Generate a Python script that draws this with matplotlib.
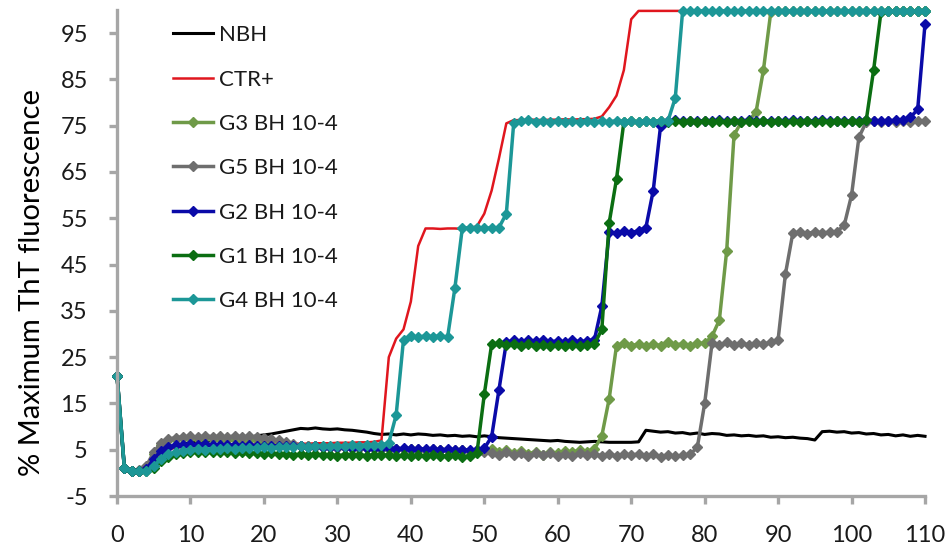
import matplotlib

matplotlib.use("Agg")
import matplotlib.pyplot as plt
import numpy as np

# tiempo (h), una lectura por hora
horas = np.arange(0, 111)

nbh = [
    20.5, 1.0, 0.5, 0.5, 0.6, 2.5, 4.5, 5.5, 6.0, 6.3,
    6.5, 6.7, 6.8, 7.0, 7.0, 7.2, 7.3, 7.5, 7.7, 8.0,
    8.2, 8.4, 8.7, 9.0, 9.3, 9.6, 9.5, 9.7, 9.5, 9.4,
    9.5, 9.3, 9.2, 9.0, 8.8, 8.5, 8.3, 8.4, 8.2, 8.4,
    8.2, 8.4, 8.3, 8.1, 8.2, 8.0, 8.1, 7.9, 8.0, 7.8,
    8.0, 7.8, 7.6, 7.5, 7.4, 7.3, 7.2, 7.1, 7.0, 6.9,
    7.0, 6.8, 6.7, 6.6, 6.7, 6.8, 6.7, 6.6, 6.6, 6.6,
    6.6, 6.7, 9.2, 9.0, 8.8, 8.9, 8.6, 8.7, 8.4, 8.6,
    8.3, 8.5, 8.4, 8.1, 8.2, 8.0, 8.1, 7.9, 8.0, 7.7,
    7.8, 7.6, 7.7, 7.5, 7.4, 7.1, 8.9, 9.0, 8.8, 8.9,
    8.6, 8.7, 8.4, 8.5, 8.2, 8.3, 8.0, 8.2, 7.9, 8.1, 7.9,
]
ctr = [
    20.5, 1.0, 0.5, 0.5, 0.6, 2.0, 4.0, 5.0, 5.5, 5.6,
    5.7, 5.8, 5.8, 5.9, 5.9, 6.0, 6.0, 6.0, 6.1, 6.1,
    6.1, 6.2, 6.2, 6.2, 6.3, 6.3, 6.3, 6.4, 6.4, 6.4,
    6.5, 6.5, 6.5, 6.6, 6.6, 6.7, 7.0, 25.0, 29.0, 31.0,
    37.0, 49.0, 52.8, 52.8, 52.7, 52.8, 52.8, 52.7, 52.8, 53.3,
    56.0, 61.0, 68.0, 75.5, 76.2, 76.2, 76.3, 76.3, 76.2, 76.3,
    76.3, 76.4, 76.3, 76.4, 76.4, 76.5, 77.0, 79.0, 81.5, 87.0,
    98.0, 99.8, 99.8, 99.8, 99.8, 99.8, 99.8, 99.8, 99.8, 99.8,
    99.8, 99.8, 99.8, 99.8, 99.8, 99.8, 99.8, 99.8, 99.8, 99.8,
    99.8, 99.8, 99.8, 99.8, 99.8, 99.8, 99.8, 99.8, 99.8, 99.8,
    99.8, 99.8, 99.8, 99.8, 99.8, 99.8, 99.8, 99.8, 99.8, 99.8, 99.8,
]
g3 = [
    21.0, 1.0, 0.5, 0.5, 1.0, 4.0, 6.0, 7.0, 7.3, 7.5,
    7.5, 7.4, 7.5, 7.3, 7.4, 7.2, 7.3, 7.1, 7.2, 7.0,
    6.8, 6.6, 6.4, 6.2, 6.0, 5.9, 5.8, 5.7, 5.6, 5.6,
    5.5, 5.5, 5.4, 5.4, 5.3, 5.3, 5.2, 5.2, 5.2, 5.1,
    5.1, 5.0, 5.0, 4.9, 5.0, 4.9, 4.8, 4.9, 4.8, 4.8,
    5.0, 5.2, 4.6, 5.0, 4.3, 4.8, 4.1, 4.6, 3.8, 4.5,
    4.2, 4.8, 4.4, 5.0, 4.6, 5.2, 8.0, 16.0, 27.5, 28.0,
    27.4, 27.9, 27.3, 27.8, 27.5, 28.2, 27.6, 27.9, 27.4, 28.0,
    28.0, 29.5, 33.0, 48.0, 73.0, 75.8, 76.0, 78.0, 87.0, 99.5,
    99.8, 99.8, 99.8, 99.8, 99.8, 99.8, 99.8, 99.8, 99.8, 99.8,
    99.8, 99.8, 99.8, 99.8, 99.8, 99.8, 99.8, 99.8, 99.8, 99.8, 99.8,
]
g5 = [
    21.0, 1.0, 0.5, 0.6, 1.5, 4.5, 6.5, 7.3, 7.6, 7.8,
    7.9, 7.7, 8.0, 7.8, 7.9, 7.7, 8.0, 7.8, 7.9, 7.7,
    7.6, 7.3, 7.0, 6.6, 6.2, 5.9, 5.7, 5.6, 5.5, 5.5,
    5.4, 5.5, 5.4, 5.3, 5.4, 5.3, 5.2, 5.3, 5.2, 5.1,
    5.2, 5.1, 5.0, 5.1, 5.0, 4.9, 5.0, 4.9, 4.8, 4.9,
    4.6, 4.2, 3.8, 4.4, 3.9, 4.3, 3.6, 4.2, 3.8, 4.3,
    3.7, 4.1, 3.6, 4.2, 3.8, 4.0, 3.7, 4.1, 3.6, 4.0,
    3.8, 4.1, 3.6, 4.0, 3.5, 3.9, 3.6, 3.8, 4.0, 5.5,
    15.0, 28.0, 27.6, 28.2, 27.7, 28.1, 27.6, 28.0, 27.8, 28.2,
    28.8, 43.0, 51.8, 52.0, 51.7, 52.1, 51.8, 52.0, 52.1, 53.5,
    60.0, 72.5, 75.8, 76.0, 75.8, 76.1, 75.9, 76.0, 75.8, 76.0, 76.0,
]
g2 = [
    21.0, 1.0, 0.5, 0.5, 0.8, 3.0, 4.8, 5.6, 6.0, 6.1,
    6.2, 6.1, 6.2, 6.0, 6.1, 6.0, 6.1, 5.9, 6.0, 5.9,
    5.8, 5.9, 5.8, 5.7, 5.8, 5.7, 5.6, 5.7, 5.6, 5.5,
    5.6, 5.5, 5.4, 5.5, 5.4, 5.3, 5.4, 5.3, 5.2, 5.3,
    5.2, 5.1, 5.2, 5.1, 5.0, 5.1, 5.0, 4.9, 5.0, 4.9,
    5.3, 7.8, 18.0, 28.2, 28.6, 28.3, 28.7, 28.4, 28.6, 28.3,
    28.5, 28.2, 28.6, 28.3, 28.5, 28.8, 36.0, 52.0, 51.8, 52.2,
    51.9, 52.3, 53.0, 61.0, 75.0, 76.0, 76.2, 76.0, 76.1, 76.0,
    76.1, 76.0, 76.2, 76.0, 76.1, 76.0, 76.2, 76.0, 76.1, 76.0,
    76.1, 76.0, 76.2, 76.0, 76.1, 76.0, 76.2, 76.0, 76.1, 76.0,
    76.1, 76.0, 76.2, 76.0, 76.1, 76.0, 76.2, 76.3, 76.8, 78.5, 97.0,
]
g1 = [
    21.0, 1.0, 0.3, 0.3, 0.3, 1.0, 2.5, 3.5, 4.0, 4.3,
    4.5, 4.4, 4.6, 4.5, 4.4, 4.5, 4.3, 4.4, 4.2, 4.3,
    4.1, 4.2, 4.0, 4.1, 3.9, 4.0, 3.8, 4.0, 3.8, 3.9,
    3.7, 3.9, 3.8, 3.9, 3.7, 3.9, 3.8, 3.9, 3.7, 3.8,
    3.7, 3.8, 3.6, 3.8, 3.7, 3.6, 3.8, 3.5, 3.7, 4.3,
    17.0, 27.8, 28.0, 27.6, 27.9, 27.5, 27.8, 27.4, 27.7, 27.3,
    27.6, 27.4, 27.7, 27.3, 27.6, 27.8, 31.0, 54.0, 63.5, 75.8,
    76.0, 75.8, 76.1, 75.9, 76.0, 75.8, 76.1, 75.9, 76.0, 75.8,
    76.1, 75.9, 76.0, 75.8, 76.1, 75.9, 76.0, 75.8, 76.1, 75.9,
    76.0, 75.8, 76.1, 75.9, 76.0, 75.8, 76.1, 75.9, 76.0, 75.8,
    76.1, 75.9, 76.2, 87.0, 99.5, 99.8, 99.8, 99.8, 99.8, 99.8, 99.8,
]
g4 = [
    21.0, 1.0, 0.3, 0.3, 0.4, 1.5, 3.0, 4.0, 4.5, 4.8,
    5.0, 5.1, 5.0, 5.2, 5.1, 5.3, 5.2, 5.4, 5.3, 5.4,
    5.5, 5.4, 5.6, 5.5, 5.6, 5.7, 5.6, 5.8, 5.7, 5.8,
    5.9, 5.8, 6.0, 5.9, 6.0, 6.1, 6.0, 6.5, 12.5, 28.8,
    29.5, 29.3, 29.6, 29.4, 29.6, 29.3, 40.0, 52.8, 53.0, 52.8,
    53.0, 52.8, 53.0, 56.0, 75.5, 76.0, 76.2, 75.9, 76.1, 75.8,
    76.1, 75.9, 76.0, 75.8, 76.1, 75.9, 76.0, 75.8, 76.1, 75.9,
    76.0, 75.8, 76.1, 75.9, 76.0, 76.0, 81.0, 99.8, 99.8, 99.8,
    99.8, 99.8, 99.8, 99.8, 99.8, 99.8, 99.8, 99.8, 99.8, 99.8,
    99.8, 99.8, 99.8, 99.8, 99.8, 99.8, 99.8, 99.8, 99.8, 99.8,
    99.8, 99.8, 99.8, 99.8, 99.8, 99.8, 99.8, 99.8, 99.8, 99.8, 99.8,
]

x_ticks = list(range(0, 111, 10))
y_ticks = list(range(-5, 100, 10))

plt.rcParams["font.family"] = ["Lato", "DejaVu Sans"]
plt.rcParams["axes.unicode_minus"] = False

fig = plt.figure(figsize=(9.5, 5.51), dpi=100)
ax = fig.add_axes([0.1232, 0.0998, 0.8505, 0.8821])

gris = "#a6a6a6"
kw = dict(linewidth=2.5, marker="D", markersize=4.8, clip_on=False)
ax.plot(horas, nbh, color="black", linewidth=2.2, label="NBH", clip_on=False)
ax.plot(horas, ctr, color="#e0161e", linewidth=1.8, label="CTR+", clip_on=False)
ax.plot(horas, g3, color="#6f9a48", label="G3 BH 10-4", **kw)
ax.plot(horas, g5, color="#6e6e6e", label="G5 BH 10-4", **kw)
ax.plot(horas, g2, color="#0a0aa8", label="G2 BH 10-4", **kw)
ax.plot(horas, g1, color="#0b6e12", label="G1 BH 10-4", **kw)
ax.plot(horas, g4, color="#1c9797", label="G4 BH 10-4", **kw)

ax.set_xlim(0, 110)
ax.set_ylim(-5, 100)
ax.set_xticks(x_ticks)
ax.set_yticks(y_ticks)

for lado in ("top", "right"):
    ax.spines[lado].set_visible(False)
for lado in ("left", "bottom"):
    ax.spines[lado].set_color(gris)
    ax.spines[lado].set_linewidth(2.4)
ax.tick_params(axis="both", direction="out", length=6, width=2.4, color=gris,
               labelsize=17, labelcolor="#1a1a1a", pad=15)

ax.set_ylabel("% Maximum ThT fluorescence", fontsize=21, color="black")
ax.yaxis.set_label_coords(-0.089, 0.44)

leg = ax.legend(loc="upper left", bbox_to_anchor=(0.058, 0.987), frameon=False,
                fontsize=16, handlelength=1.8, handletextpad=0.3,
                labelspacing=1.095, borderaxespad=0.0)
for txt in leg.get_texts():
    txt.set_color("#1a1a1a")

fig.savefig("out.png", dpi=100)
